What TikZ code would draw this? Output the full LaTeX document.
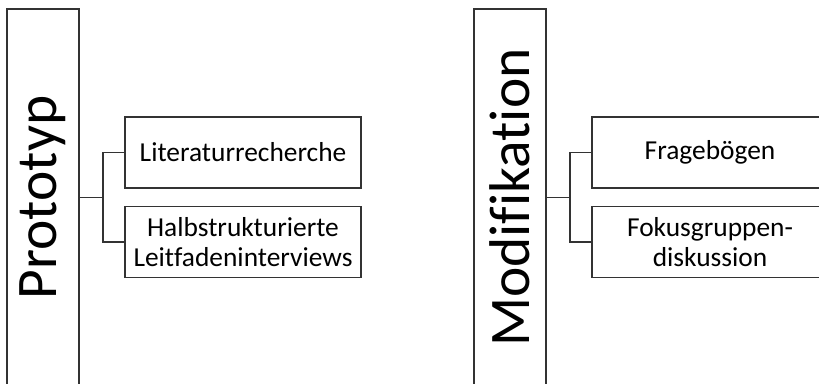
\documentclass[tikz,border=0pt]{standalone}
\usepackage{fontspec}
\setmainfont{Carlito}[Ligatures=CommonOff]
\tikzset{
  phase/.style={draw=black!80, line width=0.75pt, rotate=90, minimum width=188.5pt, minimum height=36pt, inner sep=0pt, font=\fontsize{28.7}{30}\selectfont},
  method/.style={draw=black!80, line width=0.75pt, minimum width=118pt, minimum height=35.5pt, inner sep=0pt, align=center, font=\fontsize{13.7}{15.3}\selectfont},
  link/.style={draw=black!80, line width=0.75pt}
}
\begin{document}
\begin{tikzpicture}[x=0.5pt,y=-0.5pt]
\useasboundingbox (0,0) rectangle (819,384);
\clip (0,0) rectangle (819,384);
% Prototyp
\node[phase] (proto) at (43,197.5) {Prototyp};
\node[method] (lit) at (243,152.5) {Literaturrecherche};
\node[method] (halb) at (243,242) {Halbstrukturierte\\Leitfadeninterviews};
\draw[link] (proto.south) -- ++(23,0) coordinate (j1);
\draw[link] (lit.west) -| (j1) |- (halb.west);
% Modifikation
\node[phase] (modi) at (510,197.5) {Modifikation};
\node[method] (frag) at (710,152.5) {Frageb\"ogen};
\node[method] (foku) at (710,242) {Fokusgruppen-\\diskussion};
\draw[link] (modi.south) -- ++(23,0) coordinate (j2);
\draw[link] (frag.west) -| (j2) |- (foku.west);
\end{tikzpicture}
\end{document}
